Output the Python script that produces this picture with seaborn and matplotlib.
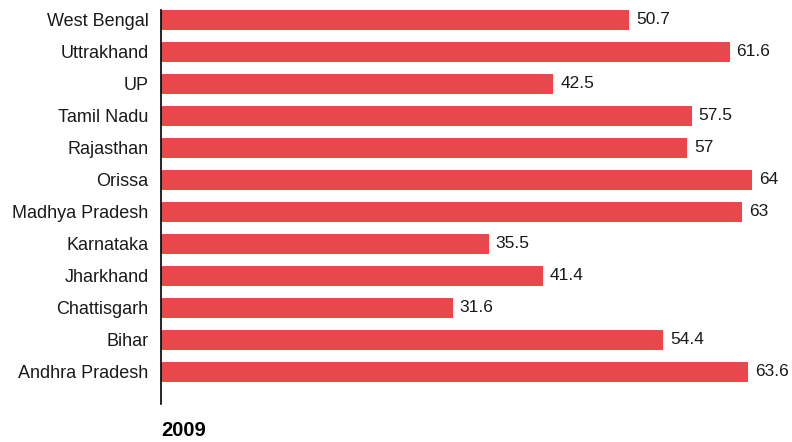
import matplotlib
matplotlib.use("Agg")
import matplotlib.pyplot as plt
import seaborn as sns
import pandas as pd
from matplotlib import font_manager

states = ["West Bengal", "Uttrakhand", "UP", "Tamil Nadu", "Rajasthan", "Orissa",
          "Madhya Pradesh", "Karnataka", "Jharkhand", "Chattisgarh", "Bihar", "Andhra Pradesh"]
values = [50.7, 61.6, 42.5, 57.5, 57, 64, 63, 35.5, 41.4, 31.6, 54.4, 63.6]
value_labels = ["50.7", "61.6", "42.5", "57.5", "57", "64", "63", "35.5", "41.4", "31.6", "54.4", "63.6"]
year_label = "2009"

sns.set_theme(style="white")
names = {f.name for f in font_manager.fontManager.ttflist}
fam = "Liberation Sans" if "Liberation Sans" in names else "DejaVu Sans"
plt.rcParams["font.family"] = [fam, "DejaVu Sans"]

df = pd.DataFrame({"state": states, "value": values})

fig = plt.figure(figsize=(7.92, 4.42), dpi=100)
ax = fig.add_axes([161/792, 38/442, (792-161)/792, 394/442])
sns.barplot(data=df, x="value", y="state", orient="h", color="#E8474C",
            saturation=1, width=0.6, linewidth=0, ax=ax)

for i, (v, lab) in enumerate(zip(values, value_labels)):
    ax.text(v + 0.75, i, lab, va="center", ha="left", fontsize=12.5, color="#1a1a1a")

ax.set_xlim(0, 631/9.23)
ax.set_ylim(12.0, -0.31)
ax.set_xlabel("")
ax.set_ylabel("")
ax.set_xticks([])
ax.tick_params(axis="y", length=0, pad=9, labelsize=13, labelcolor="#1a1a1a")
for s in ["top", "right", "bottom"]:
    ax.spines[s].set_visible(False)
ax.spines["left"].set_color("black")
ax.spines["left"].set_linewidth(1.2)

fig.text(161/792, 1 - 431/442, year_label, fontsize=14.5, fontweight="bold",
         va="center", ha="left", color="black")

fig.savefig("out.png", dpi=100)
